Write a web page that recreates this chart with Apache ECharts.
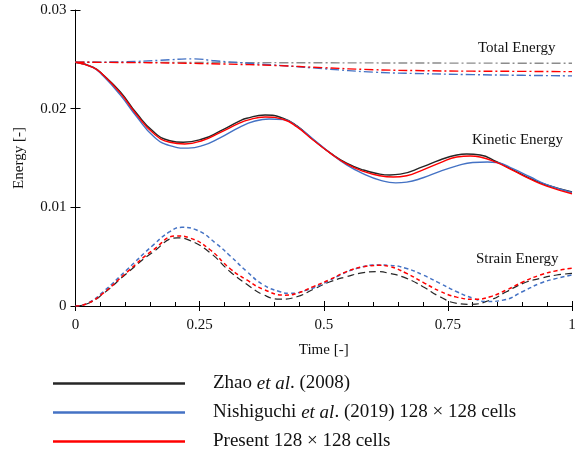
<!DOCTYPE html>
<html><head><meta charset="utf-8">
<script src="https://cdn.jsdelivr.net/npm/echarts@6/dist/echarts.min.js"></script>
<style>html,body{margin:0;padding:0;background:#fff}#c{width:585px;height:461px}</style>
</head><body><div id="c"></div>
<script>
const xTicks = [0, 0.25, 0.5, 0.75, 1];
const yTicks = [0, 0.01, 0.02, 0.03];
const legendNames = ['Zhao et al. (2008)', 'Nishiguchi et al. (2019) 128 × 128 cells', 'Present 128 × 128 cells'];
const curveLabels = ['Total Energy', 'Kinetic Energy', 'Strain Energy'];

const zhaoKinetic = [[0,0.0247],[0.035,0.0242],[0.056,0.02341],[0.09,0.02172],[0.123,0.01953],[0.157,0.01767],[0.19,0.01675],[0.217,0.01659],[0.257,0.01695],[0.291,0.01772],[0.331,0.01876],[0.345,0.01903],[0.382,0.01936],[0.419,0.01902],[0.446,0.01825],[0.479,0.01685],[0.513,0.01552],[0.546,0.01448],[0.58,0.01378],[0.613,0.01337],[0.633,0.01328],[0.654,0.01336],[0.7,0.01412],[0.734,0.0148],[0.768,0.0153],[0.788,0.0154],[0.815,0.0153],[0.848,0.01463],[0.882,0.01378],[0.915,0.01294],[0.949,0.01226],[1,0.01155]];
const nishiKinetic = [[0,0.0247],[0.035,0.02418],[0.056,0.0233],[0.09,0.0214],[0.123,0.0192],[0.157,0.0172],[0.19,0.01625],[0.227,0.0160],[0.257,0.01628],[0.291,0.01705],[0.331,0.01814],[0.36,0.01872],[0.39,0.01895],[0.419,0.0189],[0.446,0.0182],[0.479,0.0169],[0.513,0.0155],[0.546,0.0143],[0.58,0.0134],[0.613,0.01276],[0.645,0.01248],[0.667,0.01255],[0.7,0.0130],[0.734,0.01365],[0.768,0.0142],[0.8,0.01455],[0.83,0.0146],[0.848,0.01455],[0.882,0.0139],[0.915,0.0131],[0.949,0.0123],[1,0.0115]];
const presentKinetic = [[0,0.0247],[0.035,0.02419],[0.056,0.0234],[0.09,0.0216],[0.123,0.0194],[0.157,0.0175],[0.19,0.0166],[0.22,0.01642],[0.257,0.0168],[0.291,0.01758],[0.331,0.01855],[0.345,0.01882],[0.382,0.01915],[0.419,0.0189],[0.446,0.01815],[0.479,0.0168],[0.513,0.0155],[0.546,0.0144],[0.58,0.01365],[0.613,0.0132],[0.64,0.01307],[0.667,0.0132],[0.7,0.0138],[0.734,0.0145],[0.768,0.0151],[0.795,0.0152],[0.815,0.0151],[0.848,0.01455],[0.882,0.01372],[0.915,0.01288],[0.949,0.01215],[1,0.01138]];

const zhaoStrain = [[0,0],[0.025,0.00025],[0.056,0.00125],[0.103,0.0033],[0.157,0.0055],[0.205,0.0069],[0.23,0.00665],[0.271,0.0054],[0.311,0.0035],[0.345,0.0022],[0.378,0.00115],[0.412,0.0007],[0.446,0.00094],[0.479,0.00169],[0.513,0.00246],[0.546,0.00297],[0.58,0.00338],[0.607,0.00348],[0.633,0.0033],[0.667,0.0028],[0.7,0.00196],[0.734,0.00094],[0.768,0.00027],[0.795,0.00017],[0.835,0.0006],[0.868,0.00145],[0.902,0.0023],[0.936,0.0028],[0.969,0.00314],[1,0.0033]];
const nishiStrain = [[0,0],[0.025,0.0003],[0.056,0.00145],[0.103,0.00365],[0.157,0.0062],[0.19,0.00753],[0.214,0.00797],[0.244,0.0077],[0.284,0.0063],[0.311,0.0051],[0.345,0.0035],[0.378,0.00215],[0.412,0.00145],[0.432,0.00128],[0.466,0.00162],[0.5,0.0023],[0.533,0.00314],[0.567,0.00382],[0.607,0.00415],[0.633,0.00412],[0.667,0.0038],[0.7,0.00314],[0.734,0.0023],[0.768,0.00145],[0.801,0.00078],[0.828,0.00045],[0.862,0.0006],[0.902,0.0015],[0.936,0.0023],[0.969,0.0028],[1,0.00314]];
const presentStrain = [[0,0],[0.025,0.00027],[0.056,0.0013],[0.103,0.0034],[0.157,0.0057],[0.204,0.0071],[0.23,0.0069],[0.271,0.0057],[0.311,0.0038],[0.345,0.00264],[0.378,0.0017],[0.422,0.0011],[0.446,0.00128],[0.479,0.00196],[0.513,0.0027],[0.546,0.00348],[0.58,0.00398],[0.613,0.00412],[0.633,0.0040],[0.667,0.0033],[0.7,0.0024],[0.734,0.0015],[0.768,0.0009],[0.805,0.00068],[0.835,0.00094],[0.868,0.00162],[0.902,0.00246],[0.936,0.00314],[0.969,0.00358],[1,0.00382]];

const zhaoTotal = [[0,0.0247],[0.25,0.02468],[0.5,0.02465],[0.75,0.02462],[1,0.0246]];
const nishiTotal = [[0,0.0247],[0.1,0.02475],[0.17,0.0249],[0.24,0.02505],[0.28,0.02485],[0.35,0.0246],[0.42,0.02435],[0.5,0.02405],[0.6,0.0237],[0.7,0.02355],[0.8,0.02345],[0.9,0.02338],[1,0.02332]];
const presentTotal = [[0,0.0247],[0.1,0.02468],[0.2,0.02462],[0.3,0.02452],[0.4,0.02438],[0.5,0.02415],[0.6,0.02395],[0.7,0.02385],[0.8,0.0238],[0.9,0.02378],[1,0.02375]];

const BLACK = '#262626', BLUE = '#4472C4', RED = '#FF0000', GRAY = '#8c8c8c';
const FONT = '"Liberation Serif", "Times New Roman", serif';

function line(name, data, color, type, width) {
  return {
    type: 'line', name: name, data: data, smooth: 0.5, showSymbol: false, symbol: 'none',
    xAxisIndex: 0, yAxisIndex: 0,
    itemStyle: {color: color},
    lineStyle: {color: color, width: width || 1.4, type: type},
    emphasis: {disabled: true}, silent: true
  };
}

const series = [
  line(legendNames[0], zhaoKinetic, BLACK, 'solid'),
  line(legendNames[1], nishiKinetic, BLUE, 'solid'),
  line(legendNames[2], presentKinetic, RED, 'solid'),
  line(legendNames[0], zhaoStrain, BLACK, [7, 4], 1.2),
  line(legendNames[1], nishiStrain, BLUE, [4, 3], 1.5),
  line(legendNames[2], presentStrain, RED, [4, 3], 1.5),
  line(legendNames[0], zhaoTotal, GRAY, [9, 3, 2, 3], 1.4),
  line(legendNames[1], nishiTotal, BLUE, [9, 3, 2, 3], 1.4),
  line(legendNames[2], presentTotal, RED, [9, 3, 2, 3], 1.4)
];

const chart = echarts.init(document.getElementById('c'), null, {renderer: 'canvas'});
const axisLineStyle = {color: '#000', width: 1};
chart.setOption({
  animation: false,
  backgroundColor: '#fff',
  textStyle: {fontFamily: FONT},
  grid: {left: 75.5, right: 13, top: 10, bottom: 155, containLabel: false},
  xAxis: [{
    type: 'value', min: 0, max: 1, interval: 0.25, position: 'bottom',
    name: 'Time [-]', nameLocation: 'middle', nameGap: 37,
    nameTextStyle: {fontFamily: FONT, fontSize: 15, color: '#111'},
    axisLine: {show: true, onZero: false, lineStyle: axisLineStyle},
    axisTick: {show: true, inside: false, length: 5, lineStyle: axisLineStyle},
    axisLabel: {fontFamily: FONT, fontSize: 15, color: '#111', margin: 12,
      formatter: function(v){ const i = xTicks.indexOf(v); return i >= 0 ? String(xTicks[i]) : ''; }},
    splitLine: {show: false}
  }, {
    type: 'value', min: 0, max: 1, interval: 0.25, position: 'bottom',
    axisLine: {show: false, onZero: false},
    axisTick: {show: true, inside: true, length: 5, lineStyle: axisLineStyle},
    minorTick: {show: true, splitNumber: 5, length: 4, lineStyle: axisLineStyle},
    axisLabel: {show: false}, splitLine: {show: false}
  }],
  yAxis: [{
    type: 'value', min: 0, max: 0.03, interval: 0.01,
    name: 'Energy [-]', nameLocation: 'middle', nameGap: 49, nameRotate: 90,
    nameTextStyle: {fontFamily: FONT, fontSize: 15, color: '#111'},
    axisLine: {show: true, onZero: false, lineStyle: axisLineStyle},
    axisTick: {show: true, inside: false, length: 5, lineStyle: axisLineStyle},
    axisLabel: {fontFamily: FONT, fontSize: 15, color: '#111', margin: 9,
      formatter: function(v){ const i = yTicks.findIndex(t => Math.abs(t - v) < 1e-9); return i >= 0 ? String(yTicks[i]) : ''; }},
    splitLine: {show: false}
  }, {
    type: 'value', min: 0, max: 0.03, interval: 0.01, position: 'left',
    axisLine: {show: false, onZero: false},
    axisTick: {show: true, inside: true, length: 5, lineStyle: axisLineStyle},
    axisLabel: {show: false}, splitLine: {show: false}
  }],
  legend: {
    orient: 'vertical', left: 53, top: 373, padding: 0, height: 88,
    data: legendNames, icon: 'rect', itemWidth: 132, itemHeight: 2.5, itemGap: 8,
    selectedMode: false,
    textStyle: {fontFamily: FONT, fontSize: 19, color: '#111', lineHeight: 21, padding: [0, 0, 0, 23],
      rich: {n: {fontFamily: FONT, fontSize: 19, color: '#111'}, i: {fontFamily: FONT, fontSize: 19, fontStyle: 'italic', color: '#111'}}},
    formatter: function(name) {
      if (name.indexOf('et al.') >= 0) {
        const parts = name.split('et al.');
        return '{n|' + parts[0] + '}{i|et al}{n|.' + parts[1] + '}';
      }
      return '{n|' + name + '}';
    }
  },
  graphic: [
    {type: 'text', left: 478, top: 41, style: {text: curveLabels[0], font: '15px ' + FONT, fill: '#111'}},
    {type: 'text', left: 472, top: 133, style: {text: curveLabels[1], font: '15px ' + FONT, fill: '#111'}},
    {type: 'text', left: 476, top: 252, style: {text: curveLabels[2], font: '15px ' + FONT, fill: '#111'}}
  ],
  series: series
});
</script></body></html>
